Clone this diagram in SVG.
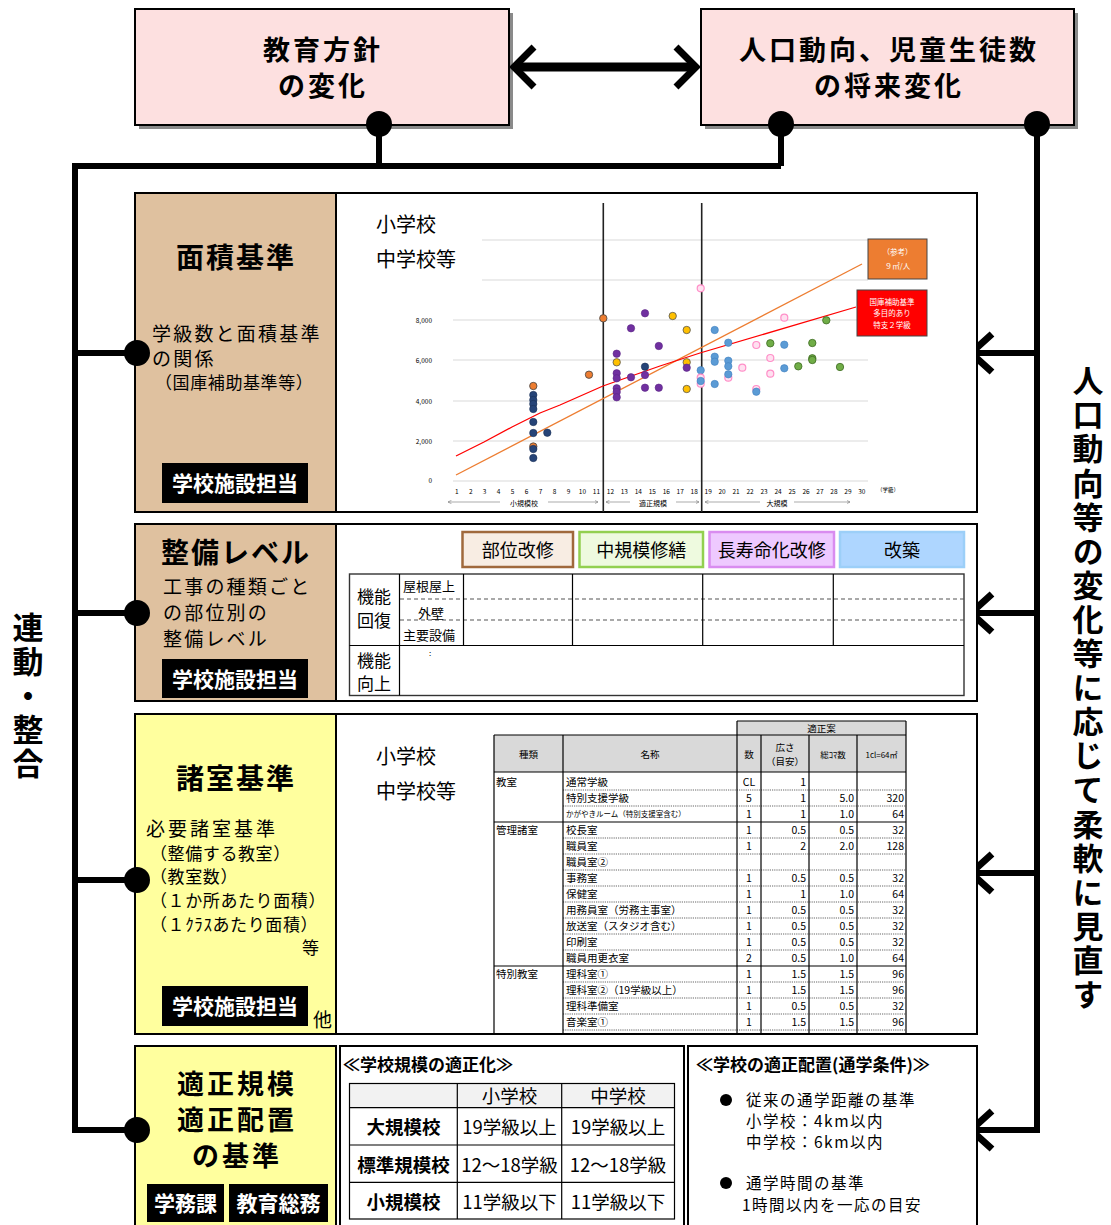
<svg xmlns="http://www.w3.org/2000/svg" width="1111" height="1225" viewBox="0 0 1111 1225">
<style>
text{font-family:"Noto Sans CJK JP","Noto Sans CJK SC",sans-serif;fill:#000}
.b{font-weight:bold}
.top{fill:#FDE0E0;stroke:#000;stroke-width:2}
.sh{fill:#8a8a8a}
.tan{fill:#DFC19F;stroke:#000;stroke-width:2}
.yel{fill:#FFFF9E;stroke:#000;stroke-width:2}
.wh{fill:#fff;stroke:#000;stroke-width:2}
.conn{fill:none;stroke:#000;stroke-width:6}
.chev{fill:none;stroke:#000;stroke-width:7;stroke-linejoin:miter}
.tag{fill:#000}
.tagt{fill:#fff;font-weight:bold;font-size:21px}
.grid{stroke:#d9d9d9;stroke-width:1.2}
.ax{font-size:6.5px;fill:#595959}
.nv{fill:#264478;stroke:#1a2f55;stroke-width:.6}
.or{fill:#ED7D31;stroke:#444;stroke-width:.8}
.pu{fill:#7030A0;stroke:#5a2585;stroke-width:.6}
.ye{fill:#FFC000;stroke:#555;stroke-width:.8}
.lb{fill:#5B9BD5;stroke:#3f7fbf;stroke-width:.6}
.pk{fill:#FFE0F0;stroke:#FF8FC8;stroke-width:1.2}
.gr{fill:#70AD47;stroke:#3d6b22;stroke-width:.8}
.tl{stroke:#000;stroke-width:1.2}
.dl{stroke:#555;stroke-width:.9;stroke-dasharray:1.2 1}
.ds{stroke:#555;stroke-width:1.2;stroke-dasharray:4 3}
.t10{font-size:10.5px}
.t9{font-size:9.5px}
.bt{font-size:19px;letter-spacing:2.2px}
.st{font-size:17px;letter-spacing:.6px}
.hd{font-weight:bold;font-size:28px;letter-spacing:2px}
.hd4{font-weight:bold;font-size:27px;letter-spacing:3px}
.rt{font-size:15.5px;letter-spacing:1.5px}
</style>
<defs>
<marker id="ah" viewBox="0 0 6 6" refX="6" refY="3" markerWidth="5" markerHeight="5" orient="auto-start-reverse"><path d="M0,0 L6,3 L0,6" fill="none" stroke="#777" stroke-width="1"/></marker>
</defs>

<!-- top nodes -->
<g id="node-kyouiku">
<rect class="sh" x="139" y="13" width="374" height="116"/>
<rect class="top" x="135" y="9" width="374" height="116"/>
<text class="hd4" x="323" y="60" text-anchor="middle">教育方針</text>
<text class="hd4" x="323" y="96" text-anchor="middle">の変化</text>
</g>
<g id="node-jinkou">
<rect class="sh" x="705" y="13" width="373" height="116"/>
<rect class="top" x="701" y="9" width="373" height="116"/>
<text class="hd4" x="889" y="60" text-anchor="middle">人口動向、児童生徒数</text>
<text class="hd4" x="889" y="96" text-anchor="middle">の将来変化</text>
</g>

<!-- connectors -->
<g id="connectors">
<line x1="518" y1="67" x2="692" y2="67" stroke="#000" stroke-width="9"/>
<polyline class="chev" points="534,47 514,67 534,87" stroke-width="8"/>
<polyline class="chev" points="676,47 696,67 676,87" stroke-width="8"/>
<circle cx="379" cy="124" r="13"/>
<circle cx="781" cy="124" r="13"/>
<circle cx="1037" cy="124" r="13"/>
<line x1="379" y1="124" x2="379" y2="166" stroke="#000" stroke-width="6"/>
<line x1="781" y1="124" x2="781" y2="166" stroke="#000" stroke-width="6"/>
<polyline class="conn" points="781,166 75,166 75,1130 137,1130" stroke-width="7"/>
<line x1="75" y1="353" x2="137" y2="353" stroke="#000" stroke-width="6"/>
<line x1="75" y1="613" x2="137" y2="613" stroke="#000" stroke-width="6"/>
<line x1="75" y1="880" x2="137" y2="880" stroke="#000" stroke-width="6"/>
<polyline class="conn" points="1037,124 1037,1130 972,1130"/>
<line x1="972" y1="353" x2="1037" y2="353" stroke="#000" stroke-width="6"/>
<line x1="972" y1="613" x2="1037" y2="613" stroke="#000" stroke-width="6"/>
<line x1="972" y1="873" x2="1037" y2="873" stroke="#000" stroke-width="6"/>
<polyline class="chev" points="992,334 971,353 992,372"/>
<polyline class="chev" points="992,594 971,613 992,632"/>
<polyline class="chev" points="992,854 971,873 992,892"/>
<polyline class="chev" points="992,1111 971,1130 992,1149"/>
<text class="b" x="28" y="612" font-size="31" letter-spacing="3" style="writing-mode:vertical-rl">連動・整合</text>
<text class="b" x="1088" y="365" font-size="31" letter-spacing="3.1" style="writing-mode:vertical-rl">人口動向等の変化等に応じて柔軟に見直す</text>
</g>

<!-- Row 1: 面積基準 -->
<g id="node-menseki">
<rect class="wh" x="135" y="193" width="842" height="319"/>
<rect class="tan" x="135" y="193" width="201" height="319"/>
<text class="hd" x="236" y="268" text-anchor="middle">面積基準</text>
<text class="bt" x="152" y="341">学級数と面積基準</text>
<text class="bt" x="152" y="366">の関係</text>
<text class="st" x="155" y="389">（国庫補助基準等）</text>
<rect class="tag" x="162" y="463" width="146" height="40"/>
<text class="tagt" x="235" y="491" text-anchor="middle">学校施設担当</text>
<circle cx="137" cy="353" r="13"/>
</g>
<g id="chart">
<line class="grid" x1="482" y1="240" x2="868" y2="240"/>
<line class="grid" x1="482" y1="280" x2="868" y2="280"/>
<line class="grid" x1="453" y1="320" x2="868" y2="320"/>
<line class="grid" x1="453" y1="360" x2="868" y2="360"/>
<line class="grid" x1="453" y1="401" x2="868" y2="401"/>
<line class="grid" x1="453" y1="441" x2="868" y2="441"/>
<line class="grid" x1="453" y1="481" x2="868" y2="481"/>
<g class="ax" text-anchor="end">
<text x="432" y="323">8,000</text><text x="432" y="363">6,000</text><text x="432" y="404">4,000</text><text x="432" y="444">2,000</text><text x="432" y="483">0</text>
</g>
<g class="ax" text-anchor="middle">
<text x="456.7" y="494">1</text><text x="470.7" y="494">2</text><text x="484.6" y="494">3</text><text x="498.6" y="494">4</text><text x="512.6" y="494">5</text><text x="526.6" y="494">6</text><text x="540.5" y="494">7</text><text x="554.5" y="494">8</text><text x="568.5" y="494">9</text><text x="582.4" y="494">10</text><text x="596.4" y="494">11</text><text x="610.4" y="494">12</text><text x="624.3" y="494">13</text><text x="638.3" y="494">14</text><text x="652.3" y="494">15</text><text x="666.3" y="494">16</text><text x="680.2" y="494">17</text><text x="694.2" y="494">18</text><text x="708.2" y="494">19</text><text x="722.1" y="494">20</text><text x="736.1" y="494">21</text><text x="750.1" y="494">22</text><text x="764" y="494">23</text><text x="778" y="494">24</text><text x="792" y="494">25</text><text x="806" y="494">26</text><text x="819.9" y="494">27</text><text x="833.9" y="494">28</text><text x="847.9" y="494">29</text><text x="861.8" y="494">30</text>
</g>
<text x="877" y="492" font-size="5.5" fill="#333">（学級）</text>
<line x1="500" y1="502" x2="448" y2="502" stroke="#888" stroke-width=".7" marker-end="url(#ah)"/>
<line x1="548" y1="502" x2="598" y2="502" stroke="#888" stroke-width=".7" marker-end="url(#ah)"/>
<line x1="630" y1="502" x2="606" y2="502" stroke="#888" stroke-width=".7" marker-end="url(#ah)"/>
<line x1="676" y1="502" x2="699" y2="502" stroke="#888" stroke-width=".7" marker-end="url(#ah)"/>
<line x1="760" y1="502" x2="705" y2="502" stroke="#888" stroke-width=".7" marker-end="url(#ah)"/>
<line x1="794" y1="502" x2="850" y2="502" stroke="#888" stroke-width=".7" marker-end="url(#ah)"/>
<text x="524" y="506" font-size="7" text-anchor="middle">小規模校</text>
<text x="653" y="506" font-size="7" text-anchor="middle">適正規模</text>
<text x="777" y="506" font-size="7" text-anchor="middle">大規模</text>
<line x1="603.3" y1="203" x2="603.3" y2="512" stroke="#222" stroke-width="1.6"/>
<line x1="701.7" y1="203" x2="701.7" y2="512" stroke="#222" stroke-width="1.6"/>
<line x1="456" y1="475" x2="862" y2="264" stroke="#ED7D31" stroke-width="1.3"/>
<polyline points="456,456 484,442 512,427 540,413 560,405 603,386 660,366 700,353 856,307" fill="none" stroke="#FF0000" stroke-width="1.3"/>
<g>
<circle class="or" cx="533.3" cy="386" r="3.7"/>
<circle class="nv" cx="533.3" cy="395" r="3.7"/><circle class="nv" cx="533.3" cy="400" r="3.7"/><circle class="nv" cx="533.3" cy="404" r="3.7"/><circle class="nv" cx="533.3" cy="409" r="3.7"/><circle class="nv" cx="533.3" cy="422" r="3.7"/><circle class="nv" cx="533.3" cy="433" r="3.7"/>
<circle class="or" cx="533.3" cy="446.5" r="3.7"/>
<circle class="nv" cx="533.3" cy="449" r="3.7"/><circle class="nv" cx="533.3" cy="458" r="3.7"/>
<circle class="nv" cx="547.3" cy="432.7" r="3.7"/>
<circle class="or" cx="589" cy="374.7" r="3.7"/>
<circle class="or" cx="603.3" cy="318.3" r="3.7"/>
<circle class="pu" cx="616.7" cy="353.7" r="3.7"/><circle class="ye" cx="616.7" cy="362.3" r="3.7"/><circle class="pu" cx="616.7" cy="373.3" r="3.7"/><circle class="pu" cx="616.7" cy="378.3" r="3.7"/><circle class="pu" cx="616.7" cy="388.3" r="3.7"/><circle class="pu" cx="616.7" cy="392" r="3.7"/><circle class="pu" cx="616.7" cy="397.3" r="3.7"/>
<circle class="pu" cx="631" cy="328.3" r="3.7"/><circle class="pu" cx="631" cy="377.3" r="3.7"/>
<circle class="pu" cx="645" cy="313.3" r="3.7"/><circle class="nv" cx="645" cy="366.7" r="3.7"/><circle class="pu" cx="645" cy="375" r="3.7"/><circle class="pu" cx="645" cy="387.7" r="3.7"/>
<circle class="pu" cx="658.8" cy="346" r="3.7"/><circle class="pu" cx="658.8" cy="387.7" r="3.7"/>
<circle class="ye" cx="672.7" cy="316" r="3.7"/>
<circle class="ye" cx="686.7" cy="330" r="3.7"/><circle class="ye" cx="686.7" cy="362.3" r="3.7"/><circle class="pu" cx="686.7" cy="367.7" r="3.7"/><circle class="ye" cx="686.7" cy="389" r="3.7"/>
<circle class="pk" cx="700.7" cy="288.3" r="3.5"/><circle class="lb" cx="700.7" cy="370.3" r="3.7"/><circle class="pk" cx="700.7" cy="377.7" r="3.5"/><circle class="pk" cx="700.7" cy="383.7" r="3.5"/><circle class="lb" cx="700.7" cy="381" r="3.7"/>
<circle class="lb" cx="714.7" cy="330" r="3.7"/><circle class="lb" cx="714.7" cy="356.7" r="3.7"/><circle class="lb" cx="714.7" cy="361.7" r="3.7"/><circle class="lb" cx="714.7" cy="384" r="3.7"/>
<circle class="lb" cx="728.3" cy="342.7" r="3.7"/><circle class="lb" cx="728.3" cy="360.7" r="3.7"/><circle class="lb" cx="728.3" cy="366.3" r="3.7"/><circle class="pk" cx="728.3" cy="377.7" r="3.5"/><circle class="lb" cx="728.3" cy="374.3" r="3.7"/>
<circle class="pk" cx="742.3" cy="367.7" r="3.5"/>
<circle class="pk" cx="756.3" cy="345" r="3.5"/><circle class="pk" cx="756.3" cy="389" r="3.5"/><circle class="lb" cx="756.3" cy="391.7" r="3.7"/>
<circle class="gr" cx="770.3" cy="343.3" r="3.7"/><circle class="pk" cx="770.3" cy="358" r="3.5"/><circle class="pk" cx="770.3" cy="373.7" r="3.5"/>
<circle class="pk" cx="784.3" cy="317.7" r="3.5"/><circle class="lb" cx="784.3" cy="344.7" r="3.7"/><circle class="lb" cx="784.3" cy="368.3" r="3.7"/>
<circle class="gr" cx="798.3" cy="366.3" r="3.7"/>
<circle class="gr" cx="812.3" cy="343" r="3.7"/><circle class="gr" cx="812.3" cy="358.3" r="3.7"/><circle class="gr" cx="812.3" cy="360" r="3.7"/>
<circle class="gr" cx="826.3" cy="320.3" r="3.7"/>
<circle class="gr" cx="840" cy="367" r="3.7"/>
</g>
<rect x="868" y="239" width="59" height="40" fill="#ED7D31" stroke="#444" stroke-width="1"/>
<text x="897.5" y="255" font-size="7.5" text-anchor="middle" style="fill:#fff">（参考）</text>
<text x="897.5" y="269" font-size="7.5" text-anchor="middle" style="fill:#fff">９㎡/人</text>
<rect x="857" y="290" width="70" height="46" fill="#FF0000" stroke="#444" stroke-width="1"/>
<text x="892" y="305" font-size="7.5" text-anchor="middle" style="fill:#fff">国庫補助基準</text>
<text x="892" y="316" font-size="7.5" text-anchor="middle" style="fill:#fff">多目的あり</text>
<text x="892" y="328" font-size="7.5" text-anchor="middle" style="fill:#fff">特支２学級</text>
<text x="376" y="232" font-size="20">小学校</text>
<text x="376" y="267" font-size="20">中学校等</text>
</g>

<!-- Row 2: 整備レベル -->
<g id="node-seibi">
<rect class="wh" x="135" y="524" width="842" height="177"/>
<rect class="tan" x="135" y="524" width="201" height="177"/>
<text class="hd" x="236" y="563" text-anchor="middle">整備レベル</text>
<text class="bt" x="163" y="594">工事の種類ごと</text>
<text class="bt" x="163" y="620">の部位別の</text>
<text class="bt" x="163" y="646">整備レベル</text>
<rect class="tag" x="162" y="659" width="146" height="39"/>
<text class="tagt" x="235" y="687" text-anchor="middle">学校施設担当</text>
<circle cx="137" cy="613" r="13"/>
</g>
<g id="seibi-table">
<rect x="462.5" y="532" width="110.5" height="35" fill="#F8EDE3" stroke="#A0693C" stroke-width="2.5"/>
<text x="517.75" y="557" font-size="18" text-anchor="middle">部位改修</text>
<rect x="579.5" y="532" width="123.5" height="35" fill="#EEFADF" stroke="#92D050" stroke-width="2.5"/>
<text x="641.25" y="557" font-size="18" text-anchor="middle">中規模修繕</text>
<rect x="709.5" y="532" width="124.5" height="35" fill="#EEC9FF" stroke="#D98CF0" stroke-width="2.5"/>
<text x="771.75" y="557" font-size="18" text-anchor="middle">長寿命化改修</text>
<rect x="840" y="532" width="124" height="35" fill="#AED6FF" stroke="#9CCFF8" stroke-width="2.5"/>
<text x="902" y="557" font-size="18" text-anchor="middle">改築</text>
<rect x="349.5" y="574" width="614.5" height="121.5" fill="#fff" stroke="#333" stroke-width="1.4"/>
<line class="ds" x1="400" y1="599" x2="964" y2="599"/>
<line class="ds" x1="400" y1="620" x2="964" y2="620"/>
<line class="tl" x1="349.5" y1="645.5" x2="964" y2="645.5"/>
<line class="tl" x1="399.5" y1="574" x2="399.5" y2="695.5"/>
<line class="tl" x1="463.5" y1="574" x2="463.5" y2="645.5"/>
<line class="tl" x1="572.5" y1="574" x2="572.5" y2="645.5"/>
<line class="tl" x1="702.7" y1="574" x2="702.7" y2="645.5"/>
<line class="tl" x1="833.3" y1="574" x2="833.3" y2="645.5"/>
<text x="357" y="603" font-size="17">機能</text>
<text x="357" y="627" font-size="17">回復</text>
<text x="403" y="591" font-size="13">屋根屋上</text>
<text x="418" y="618" font-size="13">外壁</text>
<text x="403" y="640" font-size="13">主要設備</text>
<text x="429" y="656" font-size="8">:</text>
<text x="357" y="667" font-size="17">機能</text>
<text x="357" y="690" font-size="17">向上</text>
</g>

<!-- Row 3: 諸室基準 -->
<g id="node-shoshitsu">
<rect class="wh" x="135" y="714" width="842" height="320"/>
<rect class="yel" x="135" y="714" width="201" height="320"/>
<text class="hd" x="236" y="789" text-anchor="middle">諸室基準</text>
<text x="146" y="836" font-size="19" letter-spacing="3">必要諸室基準</text>
<text class="st" x="150" y="860">（整備する教室）</text>
<text class="st" x="150" y="883">（教室数）</text>
<text class="st" x="150" y="907">（１か所あたり面積）</text>
<text class="st" x="150" y="931">（１ｸﾗｽあたり面積）</text>
<text class="st" x="302" y="954">等</text>
<rect class="tag" x="162" y="986" width="146" height="40"/>
<text class="tagt" x="235" y="1014" text-anchor="middle">学校施設担当</text>
<text x="313" y="1027" font-size="19">他</text>
<circle cx="137" cy="880" r="13"/>
</g>
<g id="shoshitsu-table">
<text x="376" y="764" font-size="20">小学校</text>
<text x="376" y="799" font-size="20">中学校等</text>
<rect x="737" y="721" width="169" height="14" fill="#D9D9D9"/>
<rect x="494" y="735" width="412" height="37" fill="#D9D9D9"/>
<line class="tl" x1="737" y1="721" x2="906" y2="721"/>
<line class="tl" x1="494" y1="735" x2="906" y2="735"/>
<line class="tl" x1="494" y1="772" x2="906" y2="772" stroke-width="1.5"/>
<line class="tl" x1="494" y1="822" x2="906" y2="822"/>
<line class="tl" x1="494" y1="966" x2="906" y2="966"/>
<g class="dl">
<line x1="563" y1="790" x2="906" y2="790"/><line x1="563" y1="806" x2="906" y2="806"/>
<line x1="563" y1="838" x2="906" y2="838"/><line x1="563" y1="854" x2="906" y2="854"/><line x1="563" y1="870" x2="906" y2="870"/><line x1="563" y1="886" x2="906" y2="886"/><line x1="563" y1="902" x2="906" y2="902"/><line x1="563" y1="918" x2="906" y2="918"/><line x1="563" y1="934" x2="906" y2="934"/><line x1="563" y1="950" x2="906" y2="950"/>
<line x1="563" y1="982" x2="906" y2="982"/><line x1="563" y1="998" x2="906" y2="998"/><line x1="563" y1="1014" x2="906" y2="1014"/><line x1="563" y1="1030" x2="906" y2="1030"/>
</g>
<line class="tl" x1="494" y1="735" x2="494" y2="1033"/>
<line class="tl" x1="563" y1="735" x2="563" y2="1033"/>
<line class="tl" x1="737" y1="721" x2="737" y2="1033" stroke-width="1.6"/>
<line class="tl" x1="761" y1="735" x2="761" y2="1033"/>
<line class="tl" x1="809" y1="735" x2="809" y2="1033"/>
<line class="tl" x1="857" y1="735" x2="857" y2="1033" stroke-width="2"/>
<line class="tl" x1="906" y1="721" x2="906" y2="1033" stroke-width="1.6"/>
<g class="t9" text-anchor="middle">
<text x="821.5" y="732">適正案</text>
<text x="528.5" y="758">種類</text>
<text x="650" y="758">名称</text>
<text x="749" y="758">数</text>
<text x="785" y="751">広さ</text>
<text x="785" y="765">（目安）</text>
<text x="833" y="758" font-size="8.5">総ｺﾏ数</text>
<text x="881.5" y="758" font-size="8">1cl=64㎡</text>
</g>
<g class="t10">
<text x="496" y="786">教室</text>
<text x="496" y="834">管理諸室</text>
<text x="496" y="978">特別教室</text>
<text x="566" y="786">通常学級</text>
<text x="566" y="802">特別支援学級</text>
<text x="566" y="817" font-size="7.5">かがやきルーム（特別支援室含む）</text>
<text x="566" y="834">校長室</text>
<text x="566" y="850">職員室</text>
<text x="566" y="866">職員室②</text>
<text x="566" y="882">事務室</text>
<text x="566" y="898">保健室</text>
<text x="566" y="914">用務員室（労務主事室）</text>
<text x="566" y="930">放送室（スタジオ含む）</text>
<text x="566" y="946">印刷室</text>
<text x="566" y="962">職員用更衣室</text>
<text x="566" y="978">理科室①</text>
<text x="566" y="994">理科室②（19学級以上）</text>
<text x="566" y="1010">理科準備室</text>
<text x="566" y="1026">音楽室①</text>
</g>
<g class="t10" text-anchor="middle">
<text x="749" y="786">CL</text><text x="749" y="802">5</text><text x="749" y="818">1</text><text x="749" y="834">1</text><text x="749" y="850">1</text><text x="749" y="882">1</text><text x="749" y="898">1</text><text x="749" y="914">1</text><text x="749" y="930">1</text><text x="749" y="946">1</text><text x="749" y="962">2</text><text x="749" y="978">1</text><text x="749" y="994">1</text><text x="749" y="1010">1</text><text x="749" y="1026">1</text>
</g>
<g class="t10" text-anchor="end">
<text x="806" y="786">1</text><text x="806" y="802">1</text><text x="806" y="818">1</text><text x="806" y="834">0.5</text><text x="806" y="850">2</text><text x="806" y="882">0.5</text><text x="806" y="898">1</text><text x="806" y="914">0.5</text><text x="806" y="930">0.5</text><text x="806" y="946">0.5</text><text x="806" y="962">0.5</text><text x="806" y="978">1.5</text><text x="806" y="994">1.5</text><text x="806" y="1010">0.5</text><text x="806" y="1026">1.5</text>
<text x="854" y="802">5.0</text><text x="854" y="818">1.0</text><text x="854" y="834">0.5</text><text x="854" y="850">2.0</text><text x="854" y="882">0.5</text><text x="854" y="898">1.0</text><text x="854" y="914">0.5</text><text x="854" y="930">0.5</text><text x="854" y="946">0.5</text><text x="854" y="962">1.0</text><text x="854" y="978">1.5</text><text x="854" y="994">1.5</text><text x="854" y="1010">0.5</text><text x="854" y="1026">1.5</text>
<text x="904" y="802">320</text><text x="904" y="818">64</text><text x="904" y="834">32</text><text x="904" y="850">128</text><text x="904" y="882">32</text><text x="904" y="898">64</text><text x="904" y="914">32</text><text x="904" y="930">32</text><text x="904" y="946">32</text><text x="904" y="962">64</text><text x="904" y="978">96</text><text x="904" y="994">96</text><text x="904" y="1010">32</text><text x="904" y="1026">96</text>
</g>
</g>

<!-- Row 4: 適正規模 -->
<g id="node-tekisei">
<rect class="yel" x="135" y="1046" width="201" height="185"/>
<text class="hd4" x="237" y="1094" text-anchor="middle">適正規模</text>
<text class="hd4" x="237" y="1130" text-anchor="middle">適正配置</text>
<text class="hd4" x="237" y="1166" text-anchor="middle">の基準</text>
<rect class="tag" x="147" y="1184" width="77" height="38"/>
<text class="tagt" x="185.5" y="1211" text-anchor="middle">学務課</text>
<rect class="tag" x="229" y="1184" width="99" height="38"/>
<text class="tagt" x="278.5" y="1211" text-anchor="middle">教育総務</text>
<circle cx="137" cy="1130" r="13"/>
</g>
<g id="node-kibo">
<rect class="wh" x="340" y="1046" width="344" height="185"/>
<text class="b" x="343" y="1071" font-size="17">≪学校規模の適正化≫</text>
<rect x="349.5" y="1083.5" width="325" height="24" fill="#F2F2F2"/>
<rect x="349.5" y="1083.5" width="325" height="135.5" fill="none" stroke="#000" stroke-width="1.2"/>
<line class="tl" x1="349.5" y1="1107.7" x2="674.5" y2="1107.7"/>
<line class="tl" x1="349.5" y1="1145" x2="674.5" y2="1145"/>
<line class="tl" x1="349.5" y1="1182.3" x2="674.5" y2="1182.3"/>
<line class="tl" x1="457.3" y1="1083.5" x2="457.3" y2="1219"/>
<line class="tl" x1="561.7" y1="1083.5" x2="561.7" y2="1219"/>
<g font-size="18.5" text-anchor="middle">
<text x="509.5" y="1103">小学校</text><text x="618" y="1103">中学校</text>
<text class="b" x="403.4" y="1134">大規模校</text><text x="509.5" y="1134">19学級以上</text><text x="618" y="1134">19学級以上</text>
<text class="b" x="403.4" y="1172">標準規模校</text><text x="509.5" y="1172">12～18学級</text><text x="618" y="1172">12～18学級</text>
<text class="b" x="403.4" y="1209">小規模校</text><text x="509.5" y="1209">11学級以下</text><text x="618" y="1209">11学級以下</text>
</g>
</g>
<g id="node-haichi">
<rect class="wh" x="688" y="1046" width="289" height="185"/>
<text class="b" x="696" y="1071" font-size="17">≪学校の適正配置(通学条件)≫</text>
<circle cx="726" cy="1100" r="6"/>
<text class="rt" x="746" y="1106">従来の通学距離の基準</text>
<text class="rt" x="746" y="1127" letter-spacing=".8">小学校：4km以内</text>
<text class="rt" x="746" y="1148" letter-spacing=".8">中学校：6km以内</text>
<circle cx="726" cy="1183" r="6"/>
<text class="rt" x="746" y="1189">通学時間の基準</text>
<text class="rt" x="742" y="1211" letter-spacing="1.3">1時間以内を一応の目安</text>
</g>
</svg>
